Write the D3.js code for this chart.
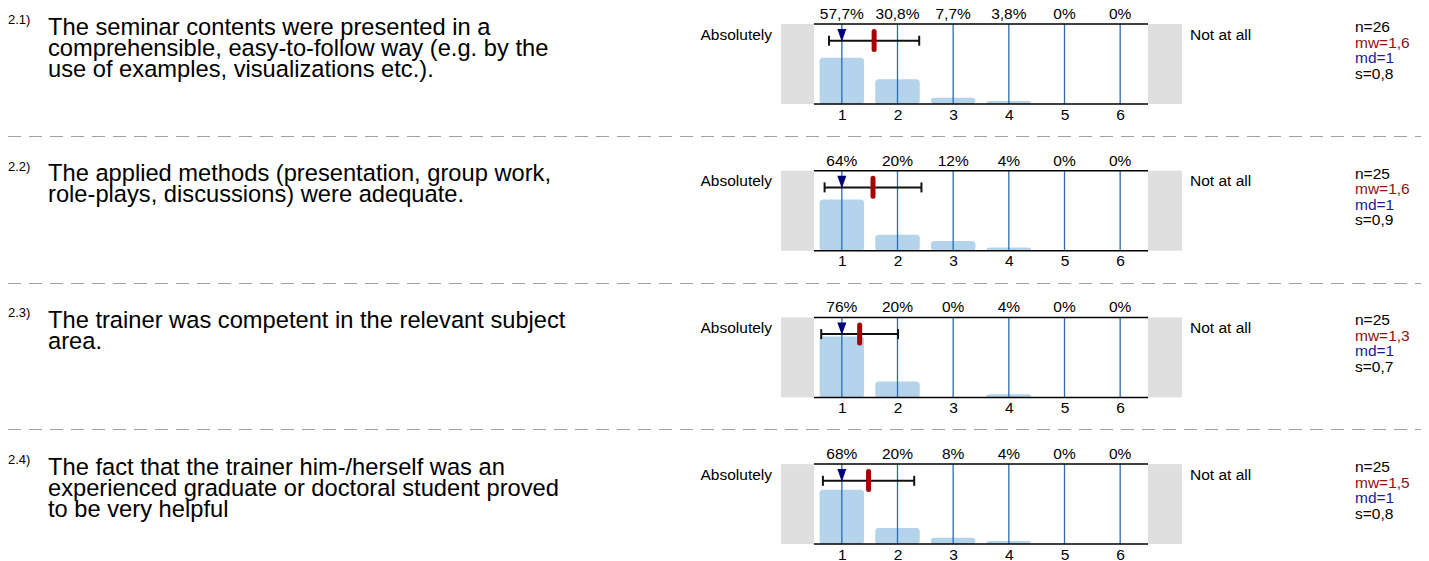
<!DOCTYPE html>
<html>
<head>
<meta charset="utf-8">
<script src="https://cdn.jsdelivr.net/npm/d3@7"></script>
<style>
  body { margin: 0; background: #fff; }
  text { font-family: "Liberation Sans", Arial, sans-serif; }
</style>
</head>
<body>
<div></div>
<script>
const width = 1429;
const height = 561;

// data
const questionNums = ['2.1)', '2.2)', '2.3)', '2.4)'];
const questionLines = [
  ['The seminar contents were presented in a', 'comprehensible, easy-to-follow way (e.g. by the', 'use of examples, visualizations etc.).'],
  ['The applied methods (presentation, group work,', 'role-plays, discussions) were adequate.'],
  ['The trainer was competent in the relevant subject', 'area.'],
  ['The fact that the trainer him-/herself was an', 'experienced graduate or doctoral student proved', 'to be very helpful']
];
const categories = [1, 2, 3, 4, 5, 6];
const percents = [
  [57.7, 30.8, 7.7, 3.8, 0, 0],
  [64, 20, 12, 4, 0, 0],
  [76, 20, 0, 4, 0, 0],
  [68, 20, 8, 4, 0, 0]
];
const nValues = [26, 25, 25, 25];
const means = [1.58, 1.56, 1.32, 1.48];
const medians = [1, 1, 1, 1];
const sds = [0.81, 0.87, 0.69, 0.82];
const leftLabel = 'Absolutely';
const rightLabel = 'Not at all';

const comma = v => String(v).replace('.', ',');
const fmt1 = v => comma(d3.format('.1f')(v)).replace(/,0$/, '');

const svg = d3.select('div').append('svg').attr('width', width).attr('height', height);

const panelTop = d3.scaleLinear().domain([0, 1]).range([24, 170.7]);
const plotH = 80;

const x = d3.scaleLinear().domain([0.5, 6.5]).range([814, 1148]);
const xb = d3.scaleBand().domain(categories).range([814, 1148]).paddingInner(0.2).paddingOuter(0.1);
const y = d3.scaleLinear().domain([0, 100]).range([plotH, 0]);

// separators
[0, 1, 2].forEach(i => {
  const yy = Math.round(panelTop(i) + 112) + 0.5;
  svg.append('line')
    .attr('x1', 8).attr('x2', 1421).attr('y1', yy).attr('y2', yy)
    .attr('stroke', '#a0a0a0').attr('stroke-width', 1.2)
    .attr('stroke-dasharray', '13,8');
});

percents.forEach((vals, i) => {
  const top = panelTop(i);
  const g = svg.append('g').attr('transform', 'translate(0,' + top + ')');

  // question
  g.append('text').attr('x', 8).attr('y', 0).attr('font-size', 13).attr('fill', '#000').text(questionNums[i]);
  g.append('text').attr('x', 48).attr('y', 10.5).attr('font-size', 23.7).attr('fill', '#000')
    .selectAll('tspan').data(questionLines[i]).enter().append('tspan')
    .attr('x', 48).attr('dy', (d, k) => k === 0 ? 0 : 21).text(d => d);

  // grey end boxes
  g.append('rect').attr('x', 781).attr('y', 0).attr('width', 814 - 781).attr('height', plotH).attr('fill', '#dfdfdf');
  g.append('rect').attr('x', 1148).attr('y', 0).attr('width', 1182 - 1148).attr('height', plotH).attr('fill', '#dfdfdf');

  g.append('text').attr('x', 772).attr('y', 15.8).attr('text-anchor', 'end').attr('font-size', 15.5).text(leftLabel);
  g.append('text').attr('x', 1190).attr('y', 15.5).attr('font-size', 15.5).text(rightLabel);

  // bars
  g.selectAll('rect.bar').data(vals).enter().append('rect')
    .attr('class', 'bar')
    .attr('x', (d, k) => xb(categories[k]))
    .attr('width', xb.bandwidth())
    .attr('y', d => y(d))
    .attr('height', d => plotH - y(d))
    .attr('rx', 3.5).attr('ry', 3.5)
    .attr('fill', '#b4d4ec');

  // vertical category lines
  g.selectAll('line.cat').data(categories).enter().append('line')
    .attr('x1', d => x(d)).attr('x2', d => x(d))
    .attr('y1', 0).attr('y2', plotH)
    .attr('stroke', '#2a6db5').attr('stroke-width', 1.3);

  // frame lines
  [0, plotH].forEach(yy => {
    g.append('line').attr('x1', 814).attr('x2', 1148).attr('y1', yy).attr('y2', yy)
      .attr('stroke', '#000').attr('stroke-width', 1.5);
  });

  // tick labels
  const axis = d3.axisBottom(x).tickValues(categories).tickSize(0).tickPadding(0).tickFormat(d3.format('d'));
  const ax = g.append('g').attr('transform', 'translate(0,' + (plotH + 4.5) + ')').call(axis);
  ax.select('.domain').remove();
  ax.selectAll('text').attr('font-size', 15.5).attr('font-family', '"Liberation Sans", Arial, sans-serif').attr('fill', '#000');

  // percent labels
  g.selectAll('text.pct').data(vals).enter().append('text')
    .attr('x', (d, k) => x(categories[k]))
    .attr('y', -5)
    .attr('text-anchor', 'middle').attr('font-size', 15.5)
    .text(d => comma(d) + '%');

  // error bar (mean +- s)
  const ey = 16.7;
  const lo = x(means[i] - sds[i]);
  const hi = x(means[i] + sds[i]);
  g.append('line').attr('x1', lo).attr('x2', hi).attr('y1', ey).attr('y2', ey).attr('stroke', '#111').attr('stroke-width', 2);
  [lo, hi].forEach(xx => {
    g.append('line').attr('x1', xx).attr('x2', xx).attr('y1', ey - 5).attr('y2', ey + 5).attr('stroke', '#111').attr('stroke-width', 2);
  });

  // median triangle
  const mx = x(medians[i]);
  g.append('path')
    .attr('d', 'M' + (mx - 4.5) + ',5 L' + (mx + 4.5) + ',5 L' + mx + ',' + (ey + 1) + ' Z')
    .attr('fill', '#00007a');

  // mean marker
  g.append('rect')
    .attr('x', x(means[i]) - 2.5).attr('y', 5)
    .attr('width', 5).attr('height', 23)
    .attr('rx', 2.5).attr('ry', 2.5)
    .attr('fill', '#a80000');

  // stats
  const stats = [
    { t: 'n=' + nValues[i], c: '#000' },
    { t: 'mw=' + fmt1(means[i]), c: '#8f1111' },
    { t: 'md=' + medians[i], c: '#1a1a99' },
    { t: 's=' + fmt1(sds[i]), c: '#000' }
  ];
  g.selectAll('text.stat').data(stats).enter().append('text')
    .attr('x', 1355).attr('y', (d, k) => 8 + k * 15.5)
    .attr('font-size', 15.5).attr('fill', d => d.c)
    .text(d => d.t);
});
</script>
</body>
</html>
